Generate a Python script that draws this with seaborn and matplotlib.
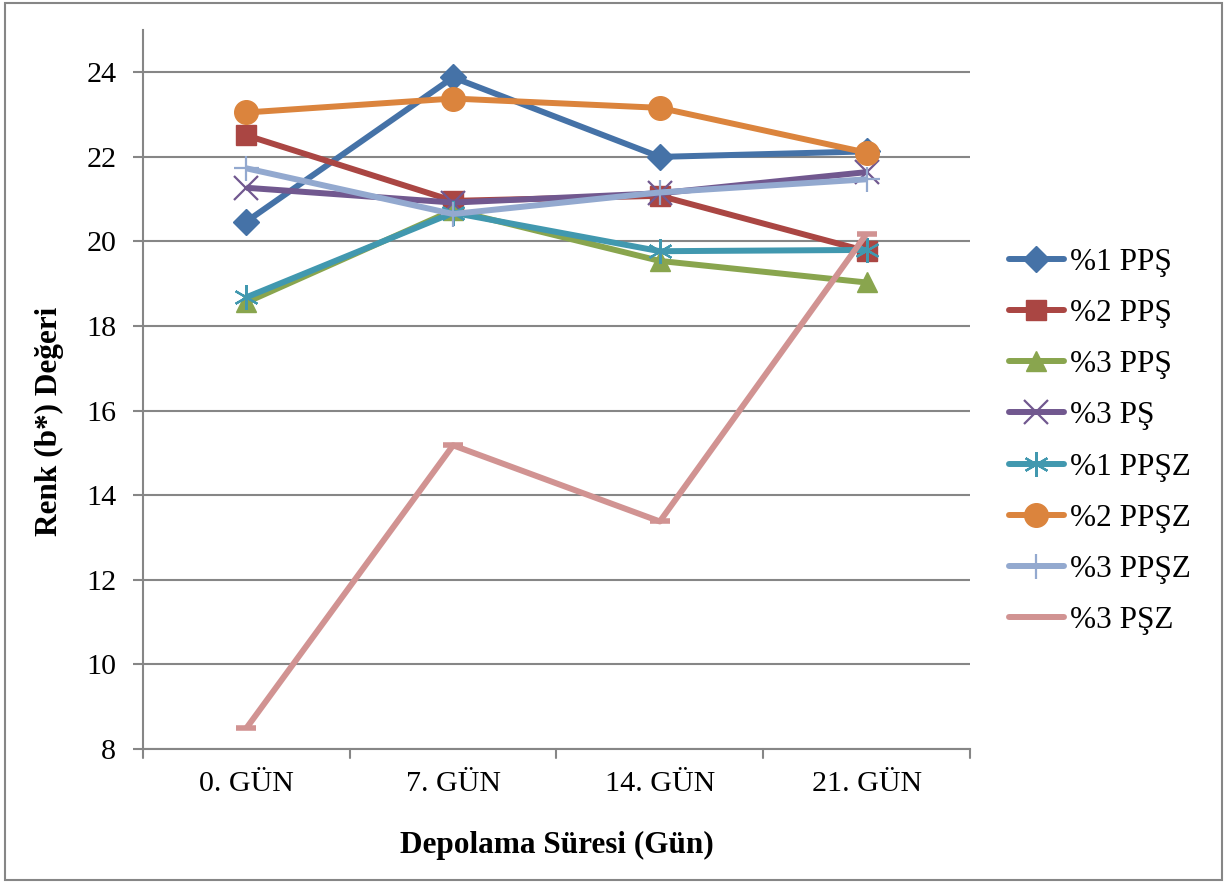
import matplotlib
matplotlib.use("Agg")
import matplotlib.pyplot as plt
from matplotlib.lines import Line2D
from matplotlib.patches import Rectangle
import seaborn as sns
import pandas as pd

# Storage days and b* colour values per formulation
days = ["0. GÜN", "7. GÜN", "14. GÜN", "21. GÜN"]
series_names = ["%1 PPŞ", "%2 PPŞ", "%3 PPŞ", "%3 PŞ",
                "%1 PPŞZ", "%2 PPŞZ", "%3 PPŞZ", "%3 PŞZ"]
pps1 = [20.47, 23.88, 22.00, 22.13]
pps2 = [22.51, 20.96, 21.08, 19.77]
pps3 = [18.56, 20.74, 19.54, 19.03]
ps3 = [21.27, 20.92, 21.14, 21.64]
ppsz1 = [18.68, 20.68, 19.77, 19.80]
ppsz2 = [23.05, 23.38, 23.16, 22.10]
ppsz3 = [21.73, 20.65, 21.16, 21.47]
psz3 = [8.49, 15.18, 13.38, 20.18]
y_ticks = [8, 10, 12, 14, 16, 18, 20, 22, 24]

values = [pps1, pps2, pps3, ps3, ppsz1, ppsz2, ppsz3, psz3]
colors = ["#4572A7", "#AA4643", "#89A54E", "#71588F",
          "#4198AF", "#DB843D", "#93A9CF", "#D19392"]
markers = ["D", "s", "^", "x", (6, 2, 0), "o", "+", "_"]
msizes = [13, 15, 15, 17, 18, 17, 18, 14]
medges = [1.0, 1.0, 1.0, 1.6, 1.6, 1.0, 1.6, 4.0]

rows = []
for name, vals in zip(series_names, values):
    for i, (d, v) in enumerate(zip(days, vals)):
        rows.append({"Gün": d, "pos": i, "Değer": v, "Seri": name})
df = pd.DataFrame(rows)

sns.set_theme(style="white")
plt.rcParams["font.family"] = ["Liberation Serif", "DejaVu Serif"]
plt.rcParams["text.color"] = "black"
plt.rcParams["axes.labelcolor"] = "black"

fig = plt.figure(figsize=(12.27, 8.83), dpi=100)
ax = fig.add_axes([0.1165, 0.1518, 0.674, 0.8142])

for name, c, m, ms, me in zip(series_names, colors, markers, msizes, medges):
    sub = df[df["Seri"] == name]
    sns.lineplot(data=sub, x="pos", y="Değer", ax=ax, color=c, linewidth=4.3,
                 marker=m, markersize=ms, markeredgewidth=me,
                 markeredgecolor=c, markerfacecolor=c, legend=False,
                 solid_capstyle="butt")

ax.set_xlim(-0.5, 3.5)
ax.set_ylim(8, 25)
ax.set_yticks(y_ticks)
ax.set_yticklabels([str(t) for t in y_ticks], fontsize=21.6, color="black")
ax.set_xticks(range(len(days)))
ax.set_xticklabels(days, fontsize=21.6, color="black")
ax.tick_params(axis="x", length=0, pad=16)
ax.tick_params(axis="y", length=7.2, width=1.5, color="#868686", direction="out",
               left=True, pad=12)
# tick marks between categories on the x axis
for b in [-0.5, 0.5, 1.5, 2.5, 3.5]:
    ax.plot([b, b], [0, -0.012], transform=ax.get_xaxis_transform(),
            color="#868686", lw=1.5, clip_on=False)

ax.grid(axis="y", color="#868686", linewidth=1.5)
ax.grid(axis="x", visible=False)
for s in ["top", "right"]:
    ax.spines[s].set_visible(False)
for s in ["left", "bottom"]:
    ax.spines[s].set_color("#868686")
    ax.spines[s].set_linewidth(1.5)
ax.set_axisbelow(True)

ax.set_xlabel("Depolama Süresi (Gün)", fontsize=22.5, fontweight="bold",
              labelpad=24, color="black")
ax.set_ylabel("Renk (b*) Değeri", fontsize=22.5, fontweight="bold",
              color="black")
ax.yaxis.set_label_coords(-0.096, 0.455)

handles = [Line2D([], [], color=c, lw=4.3, marker=m, markersize=ms,
                  markeredgewidth=me, markeredgecolor=c, markerfacecolor=c,
                  solid_capstyle="round")
           for c, m, ms, me in zip(colors, markers, msizes, medges)]
handles[-1] = Line2D([], [], color=colors[-1], lw=4.3, solid_capstyle="round")
fig.legend(handles, series_names, loc="center left",
           bbox_to_anchor=(0.812, 0.500), frameon=False, fontsize=22.5,
           handlelength=1.75, handletextpad=0.2, labelspacing=0.71,
           borderaxespad=0, labelcolor="black")

fig.patches.append(Rectangle((0.004, 0.003), 0.992, 0.994,
                             transform=fig.transFigure, fill=False,
                             edgecolor="#868686", linewidth=1.5))

fig.savefig("out.png", dpi=100, facecolor="white")
